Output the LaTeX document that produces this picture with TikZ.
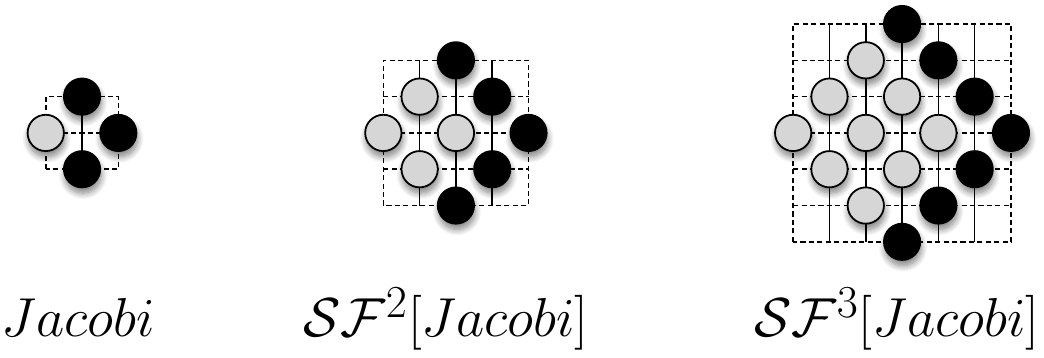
\documentclass[tikz,border=0pt]{standalone}
\usepackage{amsmath,amssymb}
\usetikzlibrary{positioning,shadows.blur}
\tikzset{
    cell/.style={circle,draw=black,line width=1.4pt,minimum size=1cm,inner sep=0pt,
        blur shadow={shadow xshift=0.8pt,shadow yshift=-4.5pt,shadow blur radius=5pt,
            shadow blur steps=10,shadow opacity=50}},
    oldcell/.style={cell,fill=black!16},
    newcell/.style={cell,fill=black},
    gridv/.style={line width=1.2pt},
    gridh/.style={line width=1.2pt,dash pattern=on 4pt off 2.6pt},
    caption/.style={anchor=base,font=\Huge,scale=1.73},
}
% one stencil: #1 name, #2 radius, #3 x of its centre
\newcommand{\stencilgrid}[3]{%
\begin{scope}[xshift=#3cm,yshift=6.2cm]
    \pgfmathtruncatemacro{\rr}{#2}
    \pgfmathtruncatemacro{\rlo}{-#2+1}
    \pgfmathtruncatemacro{\rhi}{#2-1}
    \draw[gridh] (-\rr,-\rr) rectangle (\rr,\rr);
    \foreach \k in {\rlo,...,\rhi} {
        \draw[gridh] (-\rr,\k) -- (\rr,\k);
        \draw[gridv] (\k,-\rr) -- (\k,\rr);
    }
    \foreach \y in {\rr,...,-\rr} {
        \foreach \x in {-\rr,...,\rr} {
            \pgfmathtruncatemacro{\dd}{abs(\x)+abs(\y)}
            \pgfmathtruncatemacro{\pp}{mod(\x+\y+\rr+100,2)}
            \pgfmathtruncatemacro{\ee}{\x+abs(\y)}
            \ifnum\dd>\rr\relax\else\ifnum\pp=0
                \ifnum\ee=\rr
                    \node[newcell] (#1-\x-\y) at (\x,\y) {};
                \else
                    \node[oldcell] (#1-\x-\y) at (\x,\y) {};
                \fi
            \fi\fi
        }
    }
\end{scope}}
\begin{document}
\begin{tikzpicture}
    \useasboundingbox (0,0) rectangle (28.76,9.862);
    \stencilgrid{jac}{1}{2.26}
    \stencilgrid{sfa}{2}{12.56}
    \stencilgrid{sfb}{3}{24.85}

    \node[caption] (cap-jac) at (2.15,0.58) {$Jacobi$};
    \node[caption] (cap-sfa) at (12.29,0.58) {$\mathcal{SF}^2[Jacobi]$};
    \node[caption] (cap-sfb) at (24.71,0.58) {$\mathcal{SF}^3[Jacobi]$};
\end{tikzpicture}
\end{document}
